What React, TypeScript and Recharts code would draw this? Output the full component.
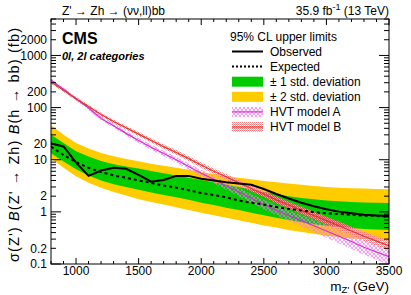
import { Area, ComposedChart, Line, XAxis, YAxis } from "recharts"

const masses = [800, 900, 1000, 1100, 1200, 1300, 1400, 1500, 1600, 1700, 1800, 1900, 2000, 2100, 2200, 2300, 2400, 2500, 2600, 2700, 2800, 2900, 3000, 3100, 3200, 3300, 3400, 3500]
const observed = [20.5, 18.0, 8.8, 4.9, 6.2, 7.0, 6.7, 5.1, 3.8, 4.1, 4.9, 4.9, 4.3, 4.0, 3.7, 3.5, 3.3, 2.75, 2.2, 1.8, 1.5, 1.28, 1.12, 1.01, 0.94, 0.88, 0.85, 0.83]
const expected = [17.8, 12.3, 9.0, 7.0, 5.8, 5.0, 4.5, 4.0, 3.6, 3.2, 2.9, 2.6, 2.3, 2.1, 1.9, 1.65, 1.5, 1.38, 1.24, 1.14, 1.06, 0.99, 0.94, 0.91, 0.88, 0.85, 0.83, 0.81]
const plus2 = [46, 30, 21, 16.5, 13.5, 11.6, 10.3, 9.3, 8.4, 7.7, 7.0, 6.4, 5.8, 5.3, 4.9, 4.5, 4.2, 3.9, 3.7, 3.5, 3.3, 3.15, 3.0, 2.9, 2.85, 2.8, 2.75, 2.7]
const plus1 = [30, 21, 14.5, 11.5, 9.5, 8.2, 7.4, 6.8, 6.1, 5.5, 5.0, 4.5, 4.1, 3.7, 3.3, 3.0, 2.7, 2.4, 2.2, 2.0, 1.85, 1.75, 1.65, 1.6, 1.55, 1.52, 1.5, 1.48]
const minus1 = [13.3, 9.2, 6.6, 5.0, 4.0, 3.4, 3.0, 2.65, 2.35, 2.1, 1.9, 1.7, 1.5, 1.35, 1.2, 1.08, 0.96, 0.86, 0.77, 0.7, 0.63, 0.58, 0.54, 0.51, 0.49, 0.47, 0.46, 0.45]
const minus2 = [10.7, 7.0, 4.8, 3.6, 2.9, 2.4, 2.05, 1.75, 1.55, 1.38, 1.22, 1.08, 0.96, 0.86, 0.77, 0.69, 0.62, 0.55, 0.5, 0.45, 0.41, 0.38, 0.35, 0.33, 0.31, 0.3, 0.29, 0.28]
const hvtA = [339, 224, 148, 98, 62, 45, 32, 23.4, 17.4, 13.2, 10, 7.4, 5.5, 4.2, 3.16, 2.4, 1.82, 1.38, 1.07, 0.85, 0.68, 0.54, 0.43, 0.34, 0.27, 0.21, 0.17, 0.138]
const hvtALow = [315, 207, 136, 90, 56.5, 41, 29, 21, 15.5, 11.7, 8.8, 6.4, 4.7, 3.55, 2.65, 2.0, 1.5, 1.12, 0.86, 0.67, 0.53, 0.41, 0.32, 0.25, 0.195, 0.15, 0.12, 0.095]
const hvtAHigh = [365, 242, 161, 107, 68, 49.5, 35.5, 26, 19.5, 14.9, 11.4, 8.5, 6.4, 4.9, 3.75, 2.88, 2.2, 1.7, 1.33, 1.07, 0.87, 0.7, 0.57, 0.46, 0.37, 0.295, 0.245, 0.2]
const hvtB = [309, 214, 148, 105, 74, 54, 41, 31, 23.4, 17.8, 13.8, 10.5, 7.9, 6.0, 4.7, 3.6, 2.8, 2.2, 1.7, 1.35, 1.07, 0.85, 0.68, 0.54, 0.43, 0.34, 0.275, 0.224]
const hvtBLow = [288, 199, 137, 97, 68, 49.5, 37.5, 28.3, 21.3, 16.1, 12.4, 9.4, 7.05, 5.3, 4.15, 3.17, 2.45, 1.92, 1.47, 1.16, 0.91, 0.72, 0.57, 0.45, 0.355, 0.28, 0.225, 0.18]
const hvtBHigh = [330, 229, 159, 113, 80, 58.5, 44.5, 34, 25.7, 19.6, 15.3, 11.7, 8.85, 6.75, 5.3, 4.1, 3.2, 2.52, 1.96, 1.57, 1.25, 1.0, 0.81, 0.65, 0.52, 0.415, 0.34, 0.28]

const xTicks = [800, 900, 1000, 1100, 1200, 1300, 1400, 1500, 1600, 1700, 1800, 1900, 2000, 2100, 2200, 2300, 2400, 2500, 2600, 2700, 2800, 2900, 3000, 3100, 3200, 3300, 3400, 3500]
const xLabels = [1000, 1500, 2000, 2500, 3000, 3500]
const yTicks = [
  0.1, 0.2, 0.3, 0.4, 0.5, 0.6, 0.7, 0.8, 0.9,
  1, 2, 3, 4, 5, 6, 7, 8, 9,
  10, 20, 30, 40, 50, 60, 70, 80, 90,
  100, 200, 300, 400, 500, 600, 700, 800, 900,
  1000, 2000, 3000, 4000, 5000,
]
const yLabels = ["0.1", "0.2", "1", "2", "10", "20", "100", "200", "1000", "2000"]
const yMajor = [0.1, 1, 10, 100, 1000]

const data = masses.map((m, i) => ({
  m,
  obs: observed[i],
  exp: expected[i],
  band2: [minus2[i], plus2[i]],
  band1: [minus1[i], plus1[i]],
  a: hvtA[i],
  aBand: [hvtALow[i], hvtAHigh[i]],
  b: hvtB[i],
  bBand: [hvtBLow[i], hvtBHigh[i]],
}))

// plot frame (ROOT pad margins)
const PL = 51
const PR = 389
const PT = 19
const PB = 264

const GREEN = "#00cc00"
const YELLOW = "#ffcc00"
const MAGENTA = "#cc33cc"
const RED = "#d03a3a"

function XTick(props: any) {
  const { x, payload } = props
  const v = payload.value
  const len = v % 500 === 0 ? 6 : 3
  return (
    <g>
      <line x1={x} x2={x} y1={PB} y2={PB - len} stroke="#000" />
      <line x1={x} x2={x} y1={PT} y2={PT + len} stroke="#000" />
      {xLabels.includes(v) && (
        <text x={x} y={275} textAnchor="middle" fontSize={12} fill="#000">
          {v}
        </text>
      )}
    </g>
  )
}

function YTick(props: any) {
  const { y, payload } = props
  const v = payload.value
  const len = yMajor.includes(v) ? 10 : 5
  const label = yLabels.includes(String(v))
  return (
    <g>
      <line x1={PL} x2={PL + len} y1={y} y2={y} stroke="#000" />
      <line x1={PR} x2={PR - len} y1={y} y2={y} stroke="#000" />
      {label && (
        <text x={47} y={y + 4.3} textAnchor="end" fontSize={12} fill="#000">
          {v}
        </text>
      )}
    </g>
  )
}

function Patterns() {
  return (
    <defs>
      <pattern id="hatchA" width="4" height="4" patternUnits="userSpaceOnUse">
        <path d="M0,0 L4,4 M4,0 L0,4" stroke="#ff70ff" strokeWidth="0.7" />
      </pattern>
      <pattern id="hatchB" width="2" height="2" patternUnits="userSpaceOnUse">
        <rect x="0" y="0" width="1" height="1" fill="#f07878" />
        <rect x="1" y="1" width="1" height="1" fill="#f7a8a8" />
      </pattern>
    </defs>
  )
}

const legendRows = [
  { y: 51.5, text: "Observed", kind: "obs" },
  { y: 66.6, text: "Expected", kind: "exp" },
  { y: 81.7, text: "\u00b1 1 std. deviation", kind: "g" },
  { y: 96.8, text: "\u00b1 2 std. deviation", kind: "y" },
  { y: 111.9, text: "HVT model A", kind: "a" },
  { y: 127, text: "HVT model B", kind: "b" },
]

function Swatch({ kind, y }: { kind: string; y: number }) {
  const x1 = 232
  const x2 = 263
  if (kind === "obs") return <line x1={x1} x2={x2} y1={y} y2={y} stroke="#000" strokeWidth={2} />
  if (kind === "exp") return <line x1={x1} x2={x2} y1={y} y2={y} stroke="#000" strokeWidth={2} strokeDasharray="2 2" />
  if (kind === "g") return <rect x={x1} y={y - 5} width={x2 - x1} height={10} fill={GREEN} />
  if (kind === "y") return <rect x={x1} y={y - 5} width={x2 - x1} height={10} fill={YELLOW} />
  const fill = kind === "a" ? "url(#hatchA)" : "url(#hatchB)"
  const stroke = kind === "a" ? MAGENTA : RED
  return (
    <g>
      <rect x={x1} y={y - 5} width={x2 - x1} height={10} fill={fill} />
      <line x1={x1} x2={x2} y1={y} y2={y} stroke={stroke} strokeWidth={1.2} />
    </g>
  )
}

export default function App() {
  return (
    <div
      style={{
        position: "absolute",
        left: 0,
        top: 0,
        width: 411,
        height: 295,
        background: "#fff",
        fontFamily: "'Liberation Sans', Arial, Helvetica, sans-serif",
      }}
    >
      <ComposedChart
        width={411}
        height={295}
        data={data}
        margin={{ top: PT, right: 411 - PR, bottom: 0, left: 0 }}
      >
        <Patterns />
        <XAxis
          dataKey="m"
          type="number"
          domain={[800, 3500]}
          ticks={xTicks}
          interval={0}
          height={295 - PB}
          axisLine={false}
          tickLine={false}
          tick={XTick}
          allowDataOverflow
        />
        <YAxis
          type="number"
          scale="log"
          domain={[0.1, 5000]}
          ticks={yTicks}
          interval={0}
          width={PL}
          axisLine={false}
          tickLine={false}
          tick={YTick}
          allowDataOverflow
        />
        <Area dataKey="band2" stroke="none" fill={YELLOW} fillOpacity={1} isAnimationActive={false} />
        <Area dataKey="band1" stroke="none" fill={GREEN} fillOpacity={1} isAnimationActive={false} />
        <Area dataKey="aBand" stroke="none" fill="url(#hatchA)" fillOpacity={1} isAnimationActive={false} />
        <Area dataKey="bBand" stroke="none" fill="url(#hatchB)" fillOpacity={1} isAnimationActive={false} />
        <Line dataKey="a" stroke={MAGENTA} strokeWidth={1.2} dot={false} isAnimationActive={false} />
        <Line dataKey="b" stroke={RED} strokeWidth={1.2} dot={false} isAnimationActive={false} />
        <Line dataKey="exp" stroke="#000" strokeWidth={2} strokeDasharray="3 3" dot={false} isAnimationActive={false} />
        <Line dataKey="obs" stroke="#000" strokeWidth={2} dot={false} isAnimationActive={false} />
      </ComposedChart>
      <svg
        width={411}
        height={295}
        style={{ position: "absolute", left: 0, top: 0, pointerEvents: "none" }}
      >
        <rect x={PL} y={PT} width={PR - PL} height={PB - PT} fill="none" stroke="#000" />
        <text x={62} y={15} fontSize={12}>
          Z' {"\u2192"} Zh {"\u2192"} ({"\u03bd\u03bd"},ll)bb
        </text>
        <text x={389} y={15} fontSize={12} textAnchor="end">
          35.9 fb<tspan dy={-5} fontSize={9}>-1</tspan>
          <tspan dy={5}>{"  "}(13 TeV)</tspan>
        </text>
        <text x={62} y={43.5} fontSize={16} fontWeight="bold">
          CMS
        </text>
        <text x={62} y={60} fontSize={11} fontWeight="bold" fontStyle="italic">
          0l, 2l categories
        </text>
        <text x={230} y={40.5} fontSize={12}>
          95% CL upper limits
        </text>
        {legendRows.map((r) => (
          <g key={r.kind}>
            <Swatch kind={r.kind} y={r.y} />
            <text x={270} y={r.y + 4.3} fontSize={12}>
              {r.text}
            </text>
          </g>
        ))}
        <text x={389} y={290.5} fontSize={13.5} textAnchor="end">
          m<tspan dy={2} fontSize={9.5}>Z'</tspan>
          <tspan dy={-2}> (GeV)</tspan>
        </text>
        <text
          transform="rotate(-90)"
          x={-262}
          y={19}
          fontSize={14.5}
          textLength={234}
          lengthAdjust="spacing"
        >
          {"\u03c3(Z') "}
          <tspan fontStyle="italic">B</tspan>
          {"(Z' \u2192 Zh) "}
          <tspan fontStyle="italic">B</tspan>
          {"(h \u2192 bb) (fb)"}
        </text>
      </svg>
    </div>
  )
}
